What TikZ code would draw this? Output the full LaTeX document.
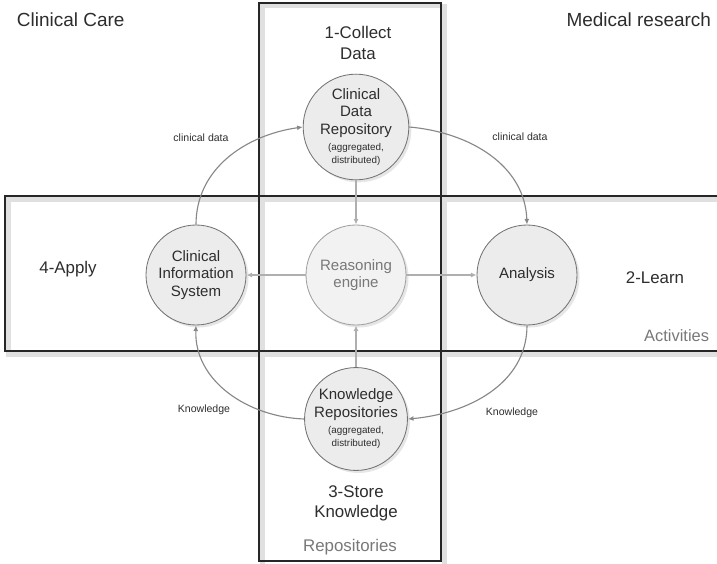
\documentclass[tikz,border=0pt]{standalone}
\usepackage{fontspec}
\setmainfont{Liberation Sans}
\usetikzlibrary{arrows.meta, shadows}

\definecolor{circfill}{RGB}{236,236,236}
\definecolor{circline}{RGB}{115,115,115}
\definecolor{engfill}{RGB}{242,242,242}
\definecolor{engline}{RGB}{160,160,160}
\definecolor{textdark}{RGB}{45,45,45}
\definecolor{textgray}{RGB}{120,120,120}
\definecolor{arcgray}{RGB}{135,135,135}
\definecolor{linkgray}{RGB}{175,175,175}

\tikzset{
    stage/.style={circle, minimum size=2.5cm, inner sep=0pt, draw=circline, fill=circfill,
        line width=0.6pt, align=center, text=textdark,
        font=\fontsize{10.7}{12.5}\selectfont,
        drop shadow={shadow xshift=1.8pt, shadow yshift=-1.8pt, opacity=0.2}},
    zone/.style={draw=black!85, line width=1.4pt},
    zoneshadow/.style={draw=black!12, line width=3pt},
    cycle/.style={draw=arcgray, line width=0.8pt, -{Latex[length=4pt, width=3.5pt]}},
    link/.style={draw=linkgray, line width=1pt, -{Latex[length=4pt, width=3.5pt]}},
}

\newcommand{\subnote}[1]{{\fontsize{7}{8.4}\selectfont #1}}

\begin{document}
\begin{tikzpicture}
    \useasboundingbox (0,0) rectangle (17.925,14.075);

    % Activities / Repositories frames
    \draw[zoneshadow] (6.56,13.92) rectangle (11.11,-0.1);
    \draw[zoneshadow] (0.21,9.09) rectangle (18.3,5.21);
    \draw[zone] (6.475,14.0) rectangle (11.025,0.05);
    \draw[zone] (0.125,9.175) rectangle (18.2,5.3);

    % Corner titles
    \node[anchor=base west, font=\fontsize{13.5}{16}\selectfont, text=textdark] (care) at (0.3,13.4) {Clinical Care};
    \node[anchor=base east, font=\fontsize{13.5}{16}\selectfont, text=textdark] (research) at (17.9,13.4) {Medical research};

    % Steps
    \node[align=center, font=\fontsize{12}{15.6}\selectfont, text=textdark] (collect) at (8.95,13.0) {1-Collect\\Data};
    \node[font=\fontsize{12}{15}\selectfont, text=textdark] (apply) at (1.7,7.35) {4-Apply};
    \node[font=\fontsize{12}{15}\selectfont, text=textdark] (learn) at (16.375,7.125) {2-Learn};
    \node[align=center, font=\fontsize{12}{14.2}\selectfont, text=textdark] (store) at (8.9,1.5) {3-Store\\Knowledge};

    % Frame captions
    \node[anchor=east, font=\fontsize{11.7}{14}\selectfont, text=textgray] (activities) at (17.85,5.675) {Activities};
    \node[font=\fontsize{12}{14}\selectfont, text=textgray] (repositories) at (8.75,0.4) {Repositories};

    % Circles
    \node[stage] (cdr) at (8.9,10.9) {Clinical\\Data\\Repository\\[-1pt]\subnote{(aggregated,}\\[-3pt]\subnote{distributed)}};
    \node[stage, fill=engfill, draw=engline, text=textgray] (engine) at (8.9,7.2) {Reasoning\\engine};
    \node[stage] (kr) at (8.9,3.6) {Knowledge\\Repositories\\[-1pt]\subnote{(aggregated,}\\[-3pt]\subnote{distributed)}};
    \node[stage] (cis) at (4.9,7.2) {Clinical\\Information\\System};
    \node[stage] (analysis) at (13.175,7.2) {Analysis};

    % Outer cycle
    \draw[cycle] (cis.north) to[out=90, in=188] (cdr.west);
    \draw[cycle] (cdr.east) to[out=-5, in=92] (analysis.north);
    \draw[cycle] (analysis.south) to[out=-90, in=5] (kr.east);
    \draw[cycle] (kr.west) to[out=178, in=-92] (cis.south);

    % Reasoning links
    \draw[link] (cdr.south) -- (engine.north);
    \draw[link] (kr.north) -- (engine.south);
    \draw[link] (engine.west) -- (cis.east);
    \draw[link] (engine.east) -- (analysis.west);

    % Cycle labels
    \node[font=\fontsize{7.5}{9}\selectfont, text=textdark] (datal) at (5.025,10.625) {clinical data};
    \node[font=\fontsize{7.5}{9}\selectfont, text=textdark] (datar) at (13.0,10.65) {clinical data};
    \node[font=\fontsize{7.5}{9}\selectfont, text=textdark] (knowl) at (5.1,3.825) {Knowledge};
    \node[font=\fontsize{7.5}{9}\selectfont, text=textdark] (knowr) at (12.8,3.75) {Knowledge};
\end{tikzpicture}
\end{document}
